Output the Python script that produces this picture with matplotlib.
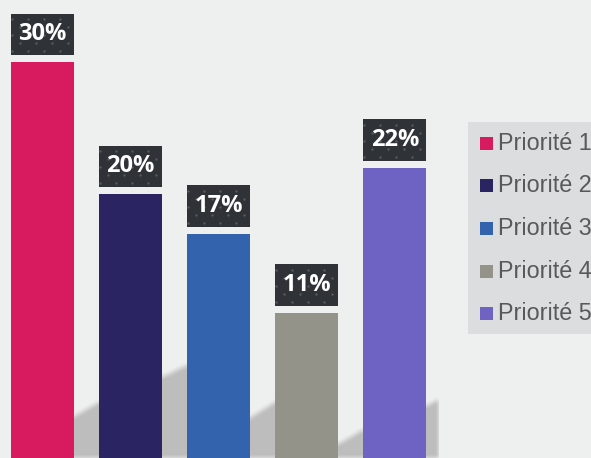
import numpy as np
import matplotlib
matplotlib.use('Agg')
import matplotlib.pyplot as plt
from matplotlib.patches import Rectangle

# priorities and their share
categories = ['Priorité 1', 'Priorité 2', 'Priorité 3', 'Priorité 4', 'Priorité 5']
values = [30, 20, 17, 11, 22]
colors = ['#d71b5e', '#2b2462', '#3463ae', '#93938a', '#6e63c2']

# floor shadow behind the bars: height (in %) of the shadow edge at the
# left and right side of each gap
shadow_edges = [(3.1, 4.2), (6.1, 7.0), (3.0, 4.2), (1.0, 2.1), (3.9, 4.4)]

BG = '#eef0ef'
BOX = '#2f3337'
W = 0.714
YMAX = 34.7

def box_blur(a, r):
  k = np.ones(2 * r + 1) / (2 * r + 1)
  a = np.apply_along_axis(lambda v: np.convolve(v, k, mode='same'), 0, a)
  a = np.apply_along_axis(lambda v: np.convolve(v, k, mode='same'), 1, a)
  return a

def main():
  fig = plt.figure(figsize=(5.91, 4.58), dpi=100, facecolor=BG)
  ax = fig.add_axes([-2 / 591, 0, 441 / 591, 1])
  ax.set_facecolor(BG)
  ax.set_xlim(-0.5, 4.5)
  ax.set_ylim(0, YMAX)
  ax.axis('off')

  # rasterised shadow, blurred for soft edges
  nx, ny = 441, 458
  xs = np.linspace(-0.5, 4.5, nx)
  ys = np.linspace(YMAX, 0, ny)
  mask = np.zeros((ny, nx))
  for i, (yl, yr) in enumerate(shadow_edges):
    x0 = i + W / 2
    x1 = i + 1 - W / 2 if i < 4 else 4.5
    for j, x in enumerate(xs):
      if x0 - 0.05 <= x <= x1 + 0.05:
        t = np.clip((x - x0) / (x1 - x0), 0, 1)
        top = yl + (yr - yl) * t
        mask[ys <= top, j] = 1
  mask = box_blur(mask, 3)
  img = np.zeros((ny, nx, 4))
  img[..., :3] = 0.745
  img[..., 3] = mask
  ax.imshow(img, extent=(-0.5, 4.5, 0, YMAX), aspect='auto', zorder=1,
            interpolation='bilinear')

  x = np.arange(len(values))
  ax.bar(x, values, width=W, color=colors, zorder=2)

  # value labels in dark dotted boxes
  px_x = 1 / 88.2
  px_y = 1 / 13.2
  for i, v in enumerate(values):
    bx0 = i - W / 2
    by0 = v + 7 * px_y
    bh = 41.5 * px_y
    ax.add_patch(Rectangle((bx0, by0), W, bh, color=BOX, zorder=3, lw=0))
    dx, dy = [], []
    for r in range(6):
      yy = by0 + (4 + 8 * r) * px_y
      off = 0 if r % 2 == 0 else 8
      for c in range(5):
        xx = bx0 + (1 + off + 16 * c) * px_x
        if xx < bx0 + W and yy < by0 + bh:
          dx.append(xx)
          dy.append(yy)
    ax.scatter(dx, dy, s=3, color='#555a5f', lw=0, zorder=4)
    ax.text(i, by0 + bh / 2, '%d%%' % v, ha='center', va='center',
            color='white', fontsize=17, fontweight='bold',
            family='Open Sans', zorder=5)

  # legend panel, running off the right edge
  fig.patches.append(Rectangle((468 / 591, (458 - 334) / 458),
                               140 / 591, 212 / 458,
                               transform=fig.transFigure,
                               color='#dcdddf', lw=0))
  for k, name in enumerate(categories):
    cy = 143 + 42.7 * k
    fig.patches.append(Rectangle((480 / 591, (458 - cy - 6.5) / 458),
                                 13 / 591, 13 / 458,
                                 transform=fig.transFigure,
                                 color=colors[k], lw=0))
    fig.text(498 / 591, (458 - cy) / 458, name, ha='left', va='center',
             fontsize=16.8, color='#58595b', family='Liberation Sans')

  fig.savefig('out.png', dpi=100, facecolor=BG)

if __name__ == '__main__':
  main()
